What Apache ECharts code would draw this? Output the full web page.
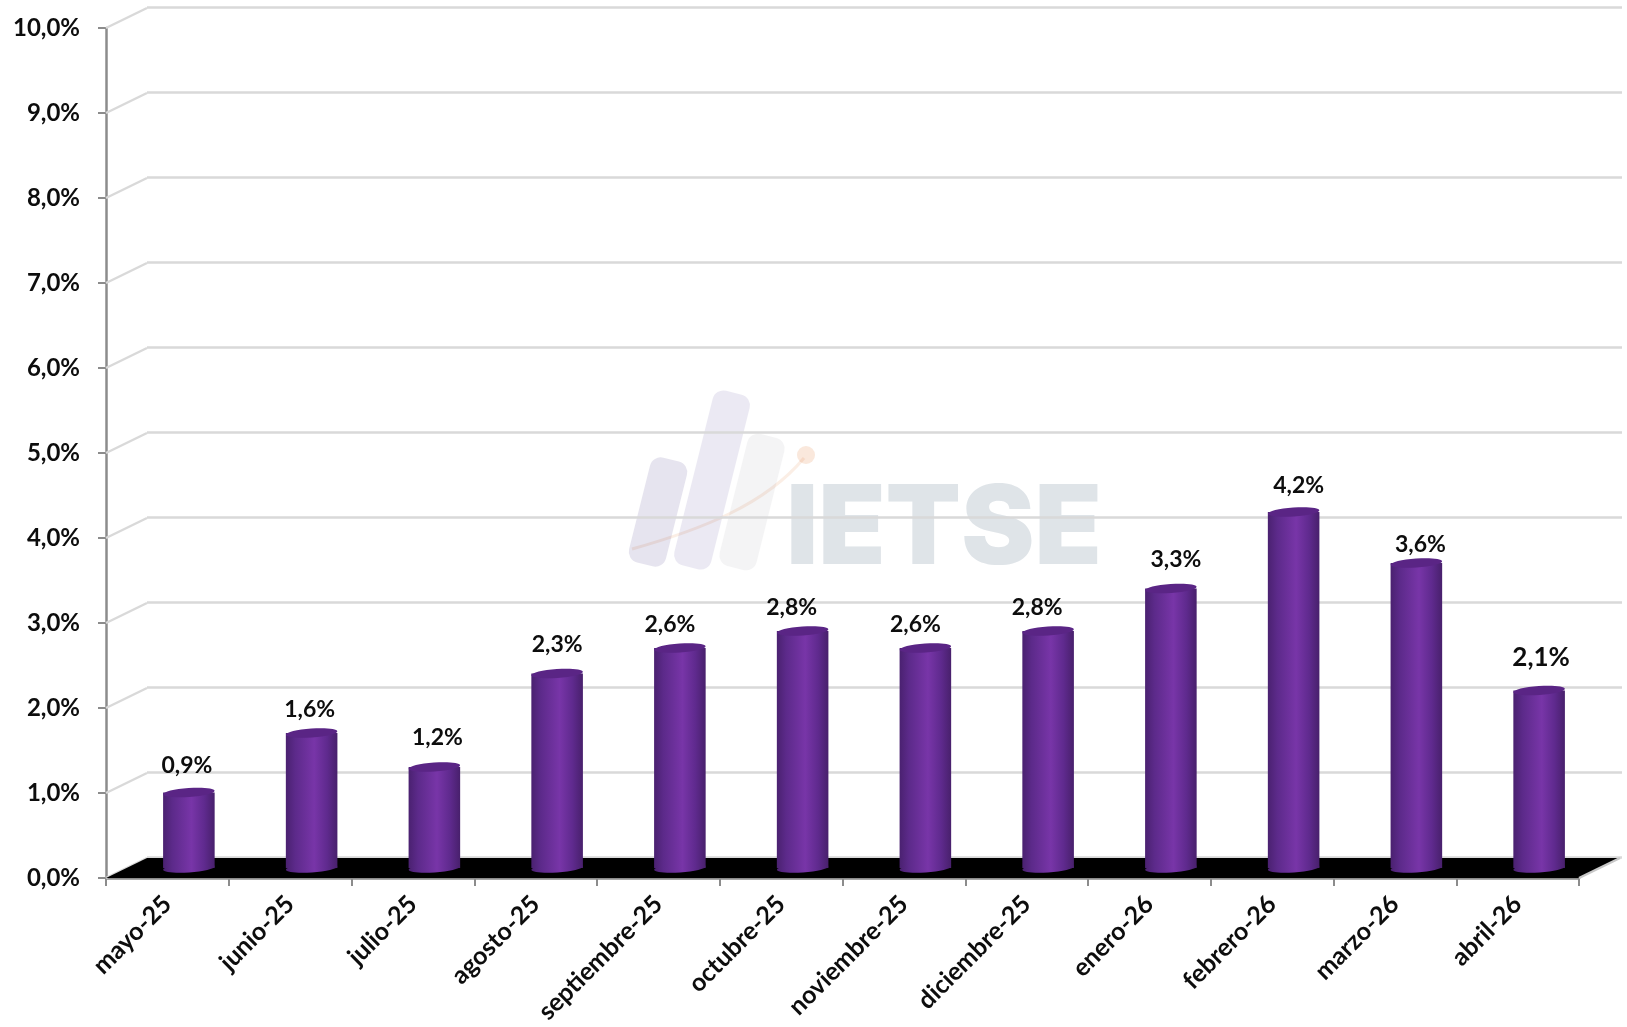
<!DOCTYPE html>
<html><head><meta charset="utf-8">
<style>html,body{margin:0;padding:0;background:#fff}#c{width:1627px;height:1027px}</style>
<script src="https://cdn.jsdelivr.net/npm/echarts@6/dist/echarts.min.js"></script></head>
<body><div id="c"></div>
<script>
const categories = ['mayo-25','junio-25','julio-25','agosto-25','septiembre-25','octubre-25','noviembre-25','diciembre-25','enero-26','febrero-26','marzo-26','abril-26'];
const values = [0.9,1.6,1.2,2.3,2.6,2.8,2.6,2.8,3.3,4.2,3.6,2.1];
const yTicks = [0,1,2,3,4,5,6,7,8,9,10];
const fmt = v => v.toFixed(1).replace('.',',') + '%';

// layout only: 3D-effect depth and hand-placed label nudges
const DEPTH = {dx:41, dy:-20};
const labelDx = [-2,-2,3,0,-10,-11,-10,-11,5,5,4,2];
const labelDy = [27,23,29,29,23,23,23,23,29,26,18,33];
const FONT = 'Lato, Carlito, sans-serif';

const chart = echarts.init(document.getElementById('c'), null, {renderer:'canvas', width:1627, height:1027});
const barFill = new echarts.graphic.LinearGradient(0,0,1,0,[
  {offset:0,color:'#4a2170'},{offset:0.18,color:'#5c2a8a'},{offset:0.55,color:'#7835a8'},
  {offset:0.8,color:'#5f2a8e'},{offset:1,color:'#48206c'}]);

chart.setOption({
  animation:false, backgroundColor:'#fff',
  grid:[
    {left:106,right:48,top:28,height:850},
    {left:147,right:5,top:7.5,height:850}
  ],
  xAxis:[
    {type:'category',gridIndex:0,data:categories,boundaryGap:true,
     axisLine:{lineStyle:{color:'#8c8c8c',width:2.5}},
     axisTick:{show:true,alignWithLabel:false,length:8,lineStyle:{color:'#8c8c8c',width:2}},
     axisLabel:{interval:0,rotate:45,margin:22,fontFamily:FONT,fontWeight:'bold',fontSize:25,color:'#0d0d0d'}},
    {type:'category',gridIndex:1,data:categories,show:false}
  ],
  yAxis:[
    {type:'value',gridIndex:0,min:0,max:10,interval:1,
     axisLine:{show:true,lineStyle:{color:'#8c8c8c',width:2.5}},
     axisTick:{show:true,length:8,lineStyle:{color:'#8c8c8c',width:2}},
     splitLine:{show:false},
     axisLabel:{margin:26,formatter:fmt,fontFamily:FONT,fontWeight:'bold',fontSize:24,color:'#0d0d0d',padding:[4,0,0,0]}},
    {type:'value',gridIndex:1,min:0,max:10,interval:1,
     axisLine:{show:false},axisTick:{show:false},axisLabel:{show:false},
     splitLine:{show:true,lineStyle:{color:'#d9d9d9',width:2.5}}}
  ],
  series:[
    {type:'custom',name:'wall',xAxisIndex:0,yAxisIndex:0,z:1,silent:true,clip:false,
     data:yTicks.map(v=>[0,v]),
     renderItem(params,api){
       const y=api.coord([0,api.value(1)])[1], x=params.coordSys.x;
       return {type:'line',shape:{x1:x,y1:y,x2:x+DEPTH.dx,y2:y+DEPTH.dy},style:{stroke:'#d9d9d9',lineWidth:2.5}};
     }},
    {type:'custom',name:'floor',xAxisIndex:0,yAxisIndex:0,z:2,silent:true,clip:false,
     data:[[0,0]],
     renderItem(params,api){
       const c=params.coordSys, y=api.coord([0,0])[1];
       return {type:'group',children:[
         {type:'polygon',shape:{points:[[c.x,y],[c.x+DEPTH.dx,y+DEPTH.dy],[c.x+c.width+DEPTH.dx,y+DEPTH.dy],[c.x+c.width,y]]},style:{fill:'#000'}},
         {type:'line',shape:{x1:c.x+c.width,y1:y,x2:c.x+c.width+DEPTH.dx,y2:y+DEPTH.dy},style:{stroke:'#c8c8c8',lineWidth:2.5}}
       ]};
     }},
    {type:'custom',name:'bars',xAxisIndex:0,yAxisIndex:0,z:5,silent:true,clip:false,
     data:values.map((v,i)=>[i,v]),
     renderItem(params,api){
       const i=api.value(0), v=api.value(1);
       const base=api.coord([i,0]), top=api.coord([i,v]), band=api.size([1,0])[0];
       const w=band*0.42, cx=base[0]+DEPTH.dx/2+1, by=base[1]+DEPTH.dy/2, ty=top[1]+DEPTH.dy/2+1;
       const rot=0.07;
       return {type:'group',children:[
         {type:'ellipse',shape:{cx:cx,cy:by,rx:w/2,ry:4.5},rotation:rot,originX:cx,originY:by,style:{fill:barFill}},
         {type:'rect',shape:{x:cx-w/2,y:ty,width:w,height:by-ty},style:{fill:barFill}},
         {type:'ellipse',shape:{cx:cx,cy:ty,rx:w/2,ry:4.5},rotation:rot,originX:cx,originY:ty,style:{fill:'#5a2585'}},
         {type:'text',x:cx+labelDx[i],y:ty-labelDy[i],style:{text:fmt(v),fill:'#0d0d0d',align:'center',verticalAlign:'middle',
            font:'bold '+(i===11?26:23)+'px '+FONT}}
       ]};
     }}
  ],
  graphic:[
    {type:'group',z:50,silent:true,children:[
      {type:'rect',x:658,y:512,rotation:-0.245,shape:{x:-19,y:-54,width:38,height:108,r:11},style:{fill:'#e6e4ef',blend:'multiply'}},
      {type:'rect',x:712,y:480,rotation:-0.245,shape:{x:-19,y:-90,width:38,height:180,r:11},style:{fill:'#ebe9f3',blend:'multiply'}},
      {type:'rect',x:752,y:502,rotation:-0.245,shape:{x:-19,y:-68,width:38,height:136,r:11},style:{fill:'#f4f4f5',blend:'multiply'}},
      {type:'bezierCurve',shape:{x1:632,y1:549,cpx1:700,cpx2:765,cpy1:530,cpy2:505,x2:804,y2:458},style:{stroke:'#fbeee5',lineWidth:3,fill:'none',blend:'multiply'}},
      {type:'circle',shape:{cx:806,cy:455,r:9},style:{fill:'#fae8dc',blend:'multiply'}},
      {type:'text',x:944,y:531,style:{text:'IETSE',fill:'#dfe4e8',align:'center',verticalAlign:'middle',font:'900 110px Inter, sans-serif',blend:'multiply'}}
    ]}
  ]
});
</script></body></html>
